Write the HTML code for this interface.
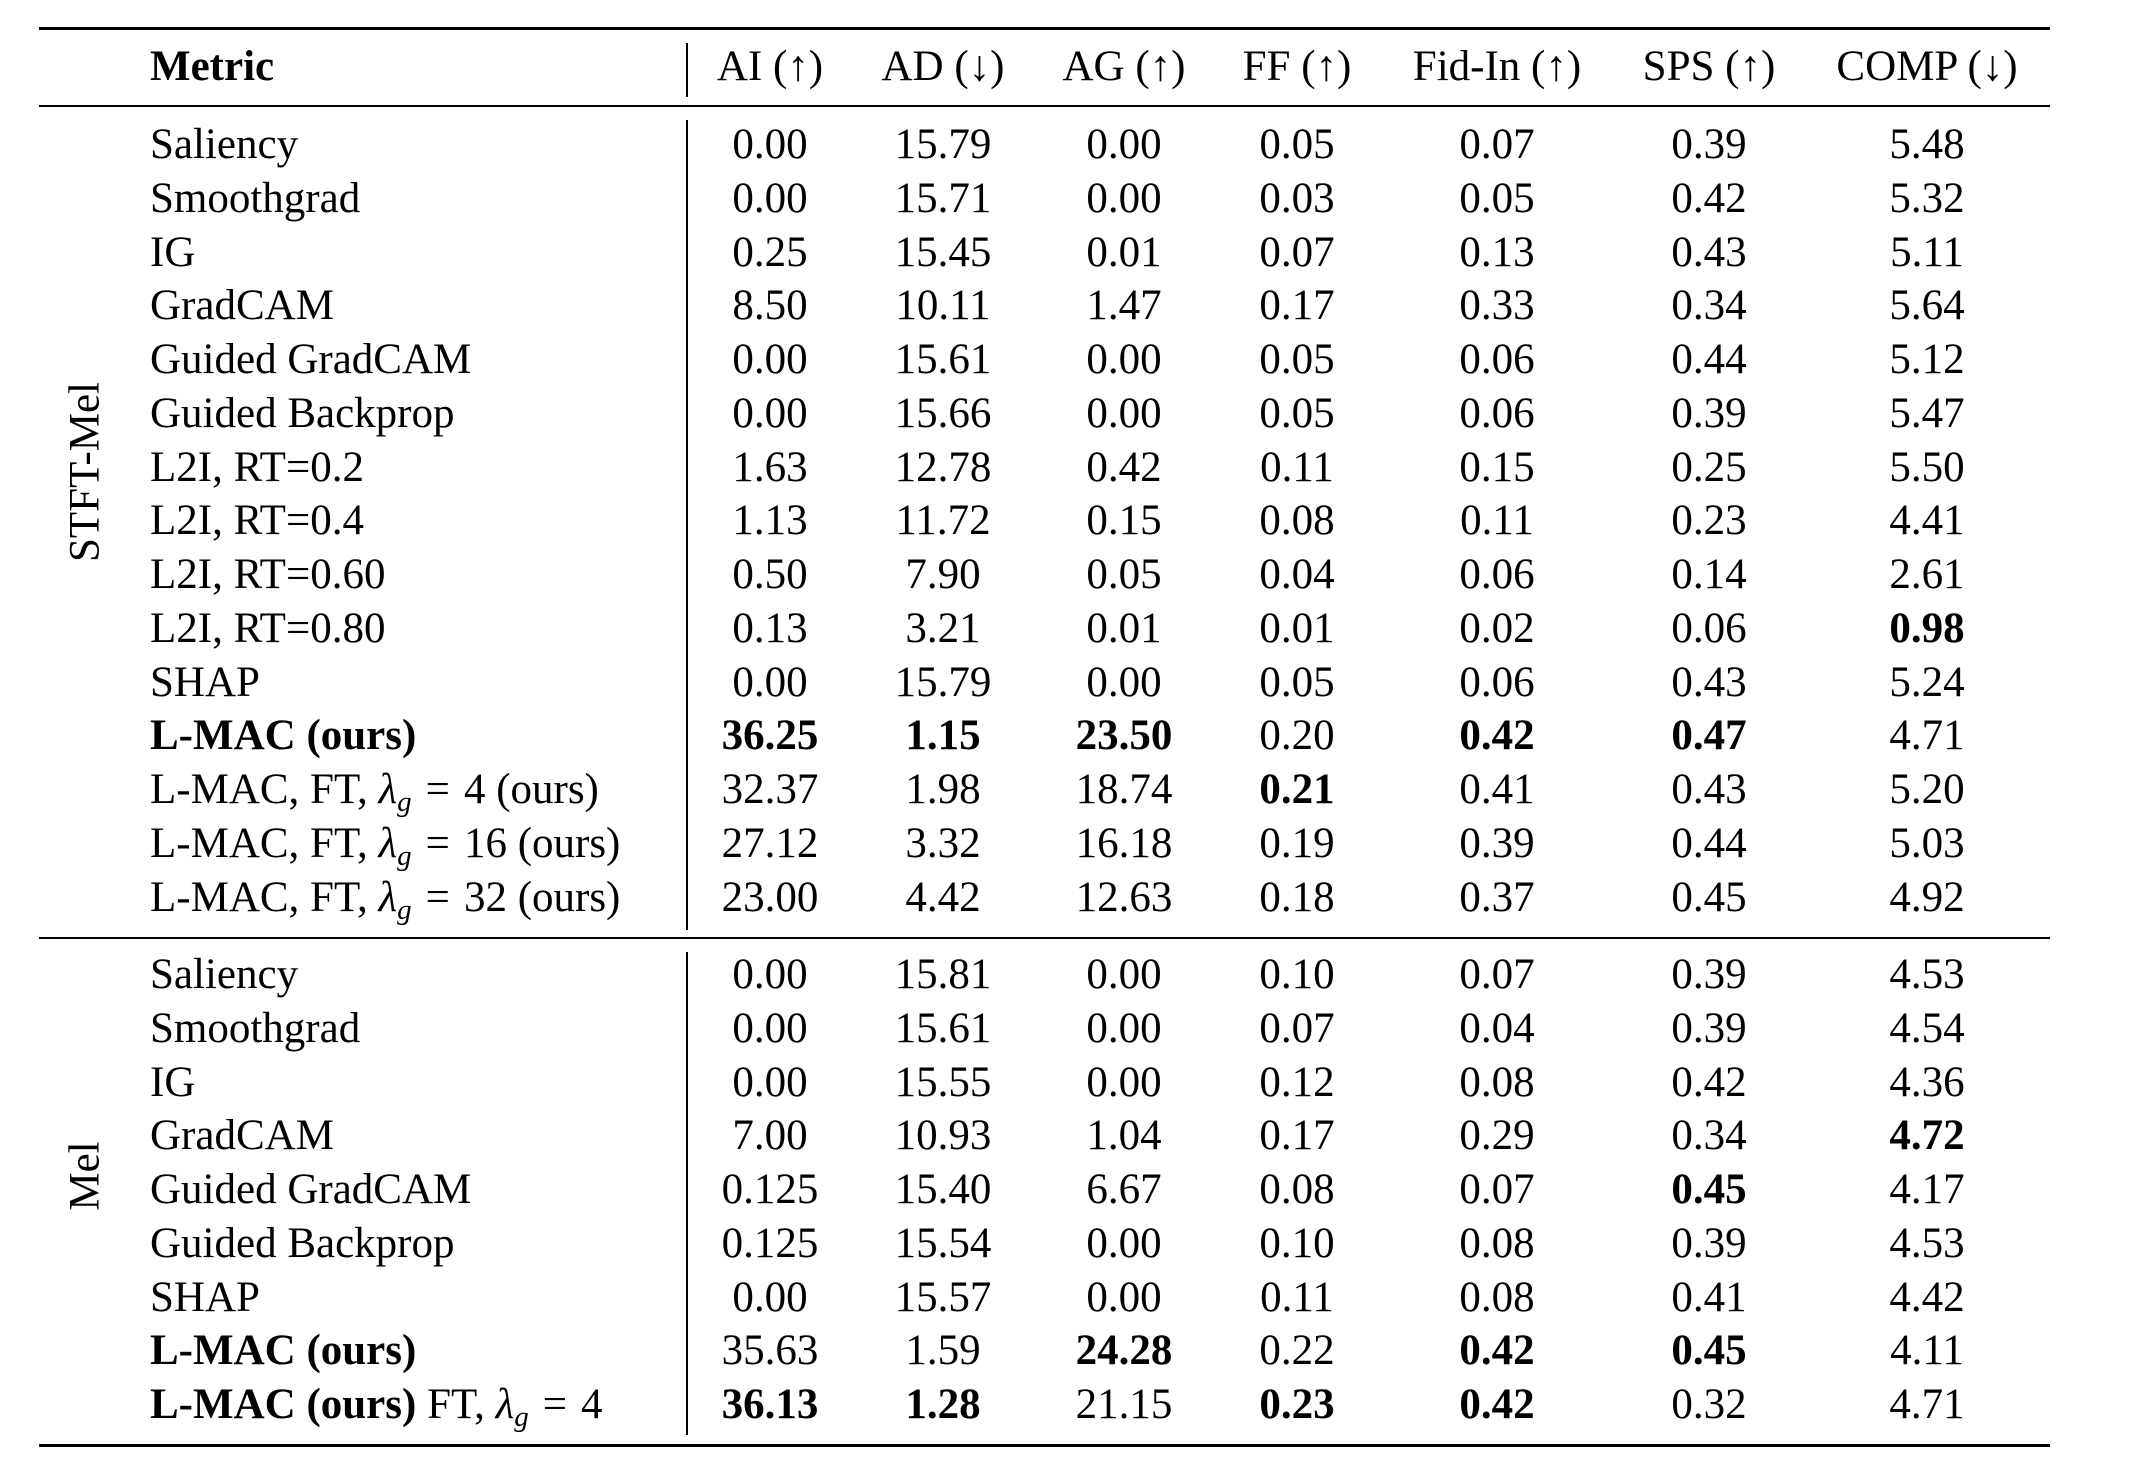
<!DOCTYPE html>
<html><head><meta charset="utf-8">
<style>
html,body{margin:0;padding:0;background:#fff;}
#t{position:relative;width:2144px;height:1468px;overflow:hidden;font-family:"Liberation Serif","DejaVu Serif",serif;font-size:43px;color:#000;}
.rule{position:absolute;background:#000;left:39px;width:2011px;}
.vl{position:absolute;left:686px;width:2px;background:#000;}
.c{position:absolute;height:50px;line-height:50px;white-space:nowrap;}
.num{width:260px;text-align:center;}
.b{font-weight:bold;}
.grp{position:absolute;transform:translate(-50%,-50%) rotate(-90deg);white-space:nowrap;}
i{font-style:italic;}
sub{font-size:29px;vertical-align:-8px;line-height:0;}
.eq{margin:0 14px;}
</style></head>
<body>
<div id="t">
<div class="rule" style="top:27px;height:3px"></div>
<div class="rule" style="top:105px;height:2px"></div>
<div class="rule" style="top:937px;height:2px"></div>
<div class="rule" style="top:1444px;height:3px"></div>
<div class="vl" style="top:43px;height:54px"></div>
<div class="vl" style="top:120px;height:810px"></div>
<div class="vl" style="top:952px;height:483px"></div>
<div class="grp" style="left:85px;top:472px">STFT-Mel</div>
<div class="grp" style="left:85px;top:1176px">Mel</div>
</div>
<script>
const headers=["AI (↑)","AD (↓)","AG (↑)","FF (↑)","Fid-In (↑)","SPS (↑)","COMP (↓)"];
const stftMethods=["Saliency","Smoothgrad","IG","GradCAM","Guided GradCAM","Guided Backprop","L2I, RT=0.2","L2I, RT=0.4","L2I, RT=0.60","L2I, RT=0.80","SHAP","<b>L-MAC (ours)</b>","L-MAC, FT, <i>λ</i><sub><i>g</i></sub><span class='eq'>=</span>4 (ours)","L-MAC, FT, <i>λ</i><sub><i>g</i></sub><span class='eq'>=</span>16 (ours)","L-MAC, FT, <i>λ</i><sub><i>g</i></sub><span class='eq'>=</span>32 (ours)"];
const stftValues=[
["0.00","15.79","0.00","0.05","0.07","0.39","5.48"],
["0.00","15.71","0.00","0.03","0.05","0.42","5.32"],
["0.25","15.45","0.01","0.07","0.13","0.43","5.11"],
["8.50","10.11","1.47","0.17","0.33","0.34","5.64"],
["0.00","15.61","0.00","0.05","0.06","0.44","5.12"],
["0.00","15.66","0.00","0.05","0.06","0.39","5.47"],
["1.63","12.78","0.42","0.11","0.15","0.25","5.50"],
["1.13","11.72","0.15","0.08","0.11","0.23","4.41"],
["0.50","7.90","0.05","0.04","0.06","0.14","2.61"],
["0.13","3.21","0.01","0.01","0.02","0.06","*0.98"],
["0.00","15.79","0.00","0.05","0.06","0.43","5.24"],
["*36.25","*1.15","*23.50","0.20","*0.42","*0.47","4.71"],
["32.37","1.98","18.74","*0.21","0.41","0.43","5.20"],
["27.12","3.32","16.18","0.19","0.39","0.44","5.03"],
["23.00","4.42","12.63","0.18","0.37","0.45","4.92"]];
const melMethods=["Saliency","Smoothgrad","IG","GradCAM","Guided GradCAM","Guided Backprop","SHAP","<b>L-MAC (ours)</b>","<b>L-MAC (ours)</b> FT, <i>λ</i><sub><i>g</i></sub><span class='eq'>=</span>4"];
const melValues=[
["0.00","15.81","0.00","0.10","0.07","0.39","4.53"],
["0.00","15.61","0.00","0.07","0.04","0.39","4.54"],
["0.00","15.55","0.00","0.12","0.08","0.42","4.36"],
["7.00","10.93","1.04","0.17","0.29","0.34","*4.72"],
["0.125","15.40","6.67","0.08","0.07","*0.45","4.17"],
["0.125","15.54","0.00","0.10","0.08","0.39","4.53"],
["0.00","15.57","0.00","0.11","0.08","0.41","4.42"],
["35.63","1.59","*24.28","0.22","*0.42","*0.45","4.11"],
["*36.13","*1.28","21.15","*0.23","*0.42","0.32","4.71"]];
const t=document.getElementById('t');
const colX=[770,943,1124,1297,1497,1709,1927];
function cell(html,x,y,cls,name){
  const d=document.createElement('div');
  d.className='c '+cls;
  d.innerHTML=html;
  if(cls.indexOf('num')>=0){d.style.left=(x-130)+'px';}else{d.style.left=x+'px';}
  d.style.top=(y-25)+'px';
  
  
  t.appendChild(d);
}
cell('<b>Metric</b>',150,67,'','header-metric');
headers.forEach((h,i)=>cell(h,colX[i],67,'num','header-'+i));
function section(methods,values,y0,prefix){
  methods.forEach((m,r)=>{
    const y=y0+r*53.75;
    cell(m,150,y,'',prefix+'-method-'+r);
    values[r].forEach((v,c)=>{
      const bold=v[0]==='*';
      cell(bold?v.slice(1):v,colX[c],y,bold?'num b':'num',prefix+'-value-'+r+'-'+c);
    });
  });
}
section(stftMethods,stftValues,145,'stft');
section(melMethods,melValues,975,'mel');
</script>
</body></html>
